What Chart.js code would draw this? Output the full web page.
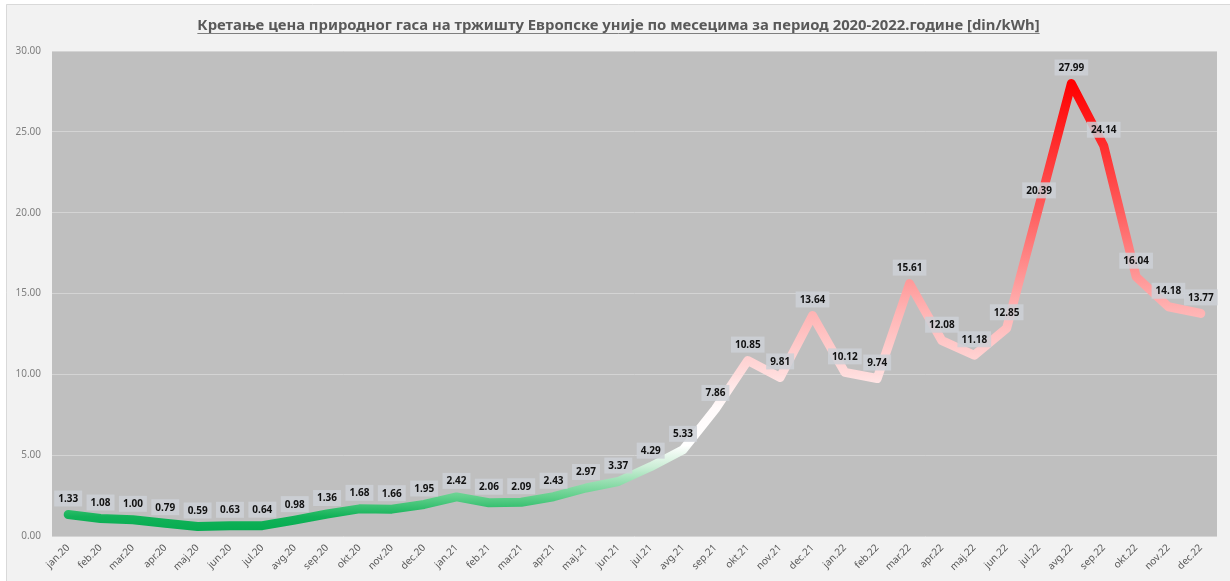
<!DOCTYPE html>
<html>
<head>
<meta charset="utf-8">
<script src="https://cdn.jsdelivr.net/npm/chart.js@4"></script>
<style>
html,body{margin:0;padding:0;background:#fff;}
#wrap{width:1230px;height:581px;position:relative;}
</style>
</head>
<body>
<div id="wrap"><canvas id="c" width="1230" height="581"></canvas></div>
<script>
const chartTitle = 'Кретање цена природног гаса на тржишту Европске уније по месецима за период 2020-2022.године [din/kWh]';
const months = ['jan','feb','mar','apr','maj','jun','jul','avg','sep','okt','nov','dec'];
const years = ['20','21','22'];
const categories = [];
years.forEach(y => months.forEach(m => categories.push(m + '.' + y)));
const prices = [
  1.33, 1.08, 1.00, 0.79, 0.59, 0.63, 0.64, 0.98, 1.36, 1.68, 1.66, 1.95,
  2.42, 2.06, 2.09, 2.43, 2.97, 3.37, 4.29, 5.33, 7.86, 10.85, 9.81, 13.64,
  10.12, 9.74, 15.61, 12.08, 11.18, 12.85, 20.39, 27.99, 24.14, 16.04, 14.18, 13.77
];
const yTicks = [0, 5, 10, 15, 20, 25, 30];
// value-based colour stops of the line gradient
const gradStops = [
  [0.0, 'rgb(0,170,78)'], [1.2, 'rgb(18,178,88)'], [2.4, 'rgb(95,207,138)'],
  [4.3, 'rgb(205,238,215)'], [5.6, 'rgb(255,255,255)'], [8.0, 'rgb(255,250,250)'],
  [10.0, 'rgb(255,220,220)'], [14.0, 'rgb(255,178,178)'], [20.0, 'rgb(255,95,95)'],
  [28.0, 'rgb(255,0,0)'], [30.0, 'rgb(255,0,0)']
];

const framePlugin = {
  id: 'frame',
  beforeDraw(chart) {
    const {ctx, chartArea: a, width, height} = chart;
    ctx.save();
    ctx.fillStyle = '#ffffff';
    ctx.fillRect(0, 0, width, height);
    ctx.fillStyle = '#f2f2f2';
    ctx.fillRect(6, 4, width - 6, height - 4);
    ctx.strokeStyle = '#d9d9d9';
    ctx.lineWidth = 1;
    ctx.beginPath();
    ctx.moveTo(6.5, height); ctx.lineTo(6.5, 4.5); ctx.lineTo(width, 4.5);
    ctx.stroke();
    ctx.fillStyle = '#bfbfbf';
    ctx.fillRect(a.left, a.top, a.right - a.left, a.bottom - a.top);
    // title
    ctx.fillStyle = '#595959';
    ctx.font = 'bold 14px "Noto Sans", "Open Sans", sans-serif';
    let w = ctx.measureText(chartTitle).width;
    const target = 843;
    const size = 14 * target / w;
    ctx.font = 'bold ' + size.toFixed(2) + 'px "Noto Sans", "Open Sans", sans-serif';
    w = ctx.measureText(chartTitle).width;
    const cx = 618.5;
    ctx.textAlign = 'center';
    ctx.textBaseline = 'alphabetic';
    ctx.fillText(chartTitle, cx, 30);
    ctx.strokeStyle = '#7f7f7f';
    ctx.beginPath();
    ctx.moveTo(cx - w / 2, 33.5); ctx.lineTo(cx + w / 2, 33.5);
    ctx.stroke();
    ctx.restore();
  }
};

const labelPlugin = {
  id: 'valueLabels',
  afterDatasetsDraw(chart) {
    const {ctx} = chart;
    const meta = chart.getDatasetMeta(0);
    ctx.save();
    ctx.font = 'bold 10px "Noto Sans", sans-serif';
    ctx.textAlign = 'center';
    ctx.textBaseline = 'middle';
    meta.data.forEach((pt, i) => {
      const txt = prices[i].toFixed(2);
      const tw = ctx.measureText(txt).width;
      const bw = tw + 8, bh = 16;
      const x = pt.x, y = pt.y - 16;
      ctx.fillStyle = 'rgba(205,208,214,0.85)';
      ctx.fillRect(x - bw / 2, y - bh / 2, bw, bh);
      ctx.fillStyle = '#111111';
      ctx.fillText(txt, x, y + 0.5);
    });
    ctx.restore();
  }
};

function lineGradient(context) {
  const chart = context.chart;
  const {ctx, chartArea, scales} = chart;
  if (!chartArea) return 'rgb(0,176,80)';
  const y0 = scales.y.getPixelForValue(0);
  const y1 = scales.y.getPixelForValue(30);
  const g = ctx.createLinearGradient(0, y0, 0, y1);
  gradStops.forEach(([v, c]) => g.addColorStop(v / 30, c));
  return g;
}

new Chart(document.getElementById('c'), {
  type: 'line',
  data: {
    labels: categories,
    datasets: [{
      data: prices,
      borderColor: lineGradient,
      borderWidth: 9,
      borderCapStyle: 'round',
      borderJoinStyle: 'round',
      pointRadius: 0,
      pointHoverRadius: 0,
      tension: 0,
      fill: false
    }]
  },
  options: {
    responsive: false,
    animation: false,
    devicePixelRatio: 1,
    layout: {padding: {top: 51, left: 0, right: 13, bottom: 0}},
    plugins: {legend: {display: false}, tooltip: {enabled: false}, title: {display: false}},
    scales: {
      x: {
        offset: true,
        grid: {display: false, drawTicks: false},
        border: {display: false},
        ticks: {
          color: '#595959',
          font: {size: 10, family: '"Noto Sans", sans-serif'},
          maxRotation: 45, minRotation: 45,
          autoSkip: false,
          padding: 6
        },
        afterFit(s) { s.height = 45; }
      },
      y: {
        min: 0, max: 30,
        afterBuildTicks(s) { s.ticks = yTicks.map(v => ({value: v})); },
        grid: {color: '#d4d4d4', lineWidth: 1, drawTicks: false},
        border: {display: false},
        ticks: {
          color: '#7f7f7f',
          font: {size: 10, family: '"Noto Sans", sans-serif'},
          padding: 11,
          callback: v => Number(v).toFixed(2)
        },
        afterFit(s) { s.width = 52; }
      }
    }
  },
  plugins: [framePlugin, labelPlugin]
});
</script>
</body>
</html>
